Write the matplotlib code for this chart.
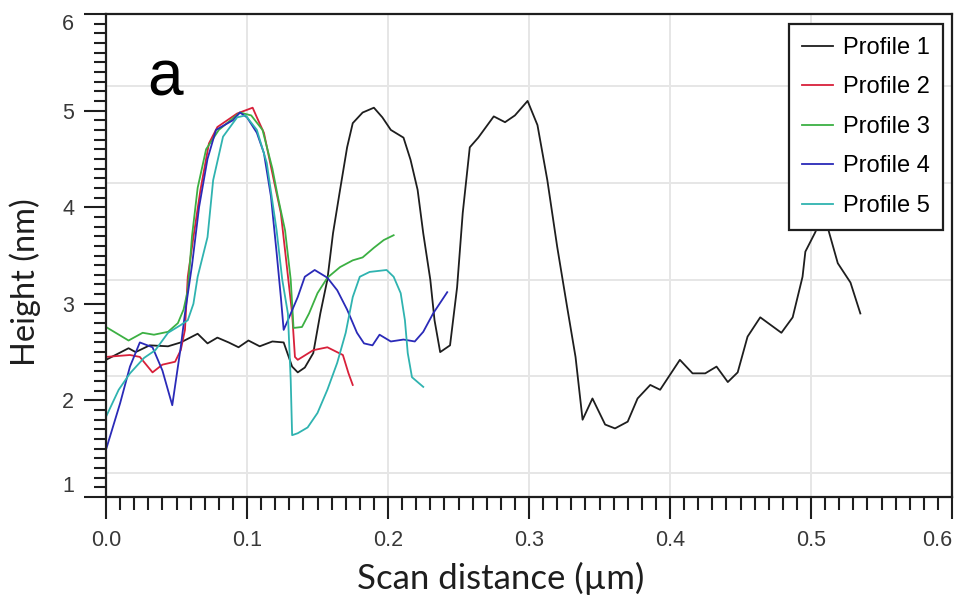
import matplotlib
matplotlib.use("Agg")
import matplotlib.pyplot as plt
from matplotlib.ticker import MultipleLocator, FixedLocator

# ---- data ----
p1_x = [0.000, 0.016, 0.021, 0.031, 0.044, 0.053, 0.065, 0.072, 0.079, 0.087, 0.094, 0.101,
        0.109, 0.118, 0.126, 0.132, 0.136, 0.141, 0.147, 0.152, 0.157, 0.161, 0.166, 0.171,
        0.175, 0.182, 0.190, 0.196, 0.202, 0.211, 0.216, 0.221, 0.225, 0.230, 0.233, 0.237,
        0.244, 0.249, 0.253, 0.258, 0.264, 0.275, 0.283, 0.290, 0.299, 0.306, 0.313, 0.320,
        0.327, 0.333, 0.338, 0.345, 0.354, 0.361, 0.370, 0.377, 0.386, 0.393, 0.407, 0.416,
        0.425, 0.433, 0.441, 0.448, 0.455, 0.464, 0.479, 0.487, 0.494, 0.496, 0.503, 0.509,
        0.513, 0.519, 0.528, 0.535]
p1_y = [2.42, 2.54, 2.50, 2.57, 2.56, 2.60, 2.69, 2.59, 2.65, 2.60, 2.55, 2.62,
        2.56, 2.61, 2.60, 2.35, 2.29, 2.34, 2.49, 2.90, 3.25, 3.73, 4.18, 4.62,
        4.87, 4.98, 5.03, 4.93, 4.80, 4.72, 4.49, 4.18, 3.73, 3.25, 2.83, 2.50,
        2.57, 3.17, 3.94, 4.62, 4.72, 4.94, 4.88, 4.95, 5.10, 4.85, 4.28, 3.59,
        2.97, 2.45, 1.80, 2.02, 1.75, 1.71, 1.78, 2.02, 2.16, 2.11, 2.42, 2.28,
        2.28, 2.35, 2.19, 2.29, 2.66, 2.86, 2.70, 2.86, 3.28, 3.54, 3.74, 3.95,
        3.73, 3.42, 3.22, 2.90]

p2_x = [0.000, 0.017, 0.024, 0.033, 0.040, 0.049, 0.053, 0.056, 0.058, 0.062, 0.067, 0.073,
        0.079, 0.093, 0.104, 0.107, 0.112, 0.119, 0.124, 0.128, 0.132, 0.134, 0.136, 0.147,
        0.157, 0.168, 0.172, 0.175]
p2_y = [2.45, 2.47, 2.45, 2.29, 2.37, 2.40, 2.52, 2.73, 3.28, 3.69, 4.18, 4.66,
        4.83, 4.97, 5.03, 4.93, 4.77, 4.28, 3.94, 3.42, 2.90, 2.45, 2.42, 2.52,
        2.55, 2.47, 2.28, 2.16]

p3_x = [0.000, 0.016, 0.026, 0.034, 0.044, 0.051, 0.055, 0.058, 0.061, 0.065, 0.071, 0.080,
        0.095, 0.103, 0.111, 0.118, 0.122, 0.127, 0.131, 0.133, 0.139, 0.144, 0.150, 0.157,
        0.166, 0.175, 0.182, 0.190, 0.197, 0.204]
p3_y = [2.76, 2.62, 2.70, 2.68, 2.71, 2.80, 2.94, 3.14, 3.70, 4.20, 4.60, 4.80,
        4.98, 4.95, 4.80, 4.40, 4.10, 3.76, 3.25, 2.75, 2.76, 2.90, 3.11, 3.27,
        3.38, 3.45, 3.48, 3.58, 3.66, 3.71]

p4_x = [0.000, 0.010, 0.017, 0.024, 0.033, 0.040, 0.047, 0.053, 0.056, 0.061, 0.066, 0.072,
        0.078, 0.090, 0.095, 0.100, 0.107, 0.112, 0.117, 0.121, 0.124, 0.126, 0.129, 0.136,
        0.141, 0.148, 0.157, 0.164, 0.171, 0.178, 0.183, 0.189, 0.194, 0.202, 0.211, 0.219,
        0.225, 0.232, 0.242]
p4_y = [1.49, 1.97, 2.35, 2.60, 2.55, 2.31, 1.95, 2.55, 2.90, 3.40, 4.00, 4.50,
        4.80, 4.90, 4.98, 4.93, 4.77, 4.56, 4.11, 3.53, 3.07, 2.73, 2.83, 3.07,
        3.28, 3.35, 3.27, 3.14, 2.94, 2.70, 2.59, 2.57, 2.68, 2.61, 2.63, 2.61,
        2.71, 2.90, 3.12]

p5_x = [0.000, 0.009, 0.017, 0.027, 0.035, 0.044, 0.053, 0.058, 0.062, 0.065, 0.072, 0.076,
        0.083, 0.093, 0.099, 0.107, 0.114, 0.121, 0.125, 0.129, 0.131, 0.132, 0.136, 0.143,
        0.150, 0.157, 0.164, 0.170, 0.175, 0.180, 0.187, 0.199, 0.204, 0.209, 0.212, 0.214,
        0.217, 0.225]
p5_y = [1.83, 2.11, 2.28, 2.44, 2.52, 2.70, 2.78, 2.83, 3.00, 3.28, 3.69, 4.28,
        4.73, 4.93, 4.95, 4.80, 4.46, 3.76, 3.25, 2.90, 2.21, 1.64, 1.66, 1.72,
        1.87, 2.11, 2.39, 2.70, 3.07, 3.28, 3.33, 3.35, 3.28, 3.11, 2.83, 2.49,
        2.24, 2.14]

series_labels = ["Profile 1", "Profile 2", "Profile 3", "Profile 4", "Profile 5"]
series_colors = ["#1e1e1e", "#d8203a", "#3cb043", "#2a2ab8", "#2fb3b0"]
x_ticks = [0.0, 0.1, 0.2, 0.3, 0.4, 0.5, 0.6]
y_ticks = [1, 2, 3, 4, 5, 6]
grid_y = [1.25, 2.25, 3.25, 4.25, 5.25]

W, H = 958, 605
fig = plt.figure(figsize=(W / 100, H / 100), dpi=100)
ax = fig.add_axes([106 / W, 1 - 497 / H, 846 / W, 483 / H])

for gy in grid_y:
    ax.axhline(gy, color="#e6e6e6", lw=1.4, zorder=0)
for gx in x_ticks[1:-1]:
    ax.axvline(gx, color="#e6e6e6", lw=1.4, zorder=0)

xs = [p1_x, p2_x, p3_x, p4_x, p5_x]
ys = [p1_y, p2_y, p3_y, p4_y, p5_y]
for x, y, lab, c in zip(xs, ys, series_labels, series_colors):
    ax.plot(x, y, color=c, lw=1.3, label=lab, zorder=2)

ax.set_xlim(0, 0.6)
ax.set_ylim(1, 6)
ax.xaxis.set_major_locator(FixedLocator(x_ticks))
ax.yaxis.set_major_locator(FixedLocator(y_ticks))
ax.xaxis.set_minor_locator(MultipleLocator(0.01))
ax.yaxis.set_minor_locator(MultipleLocator(0.1))
ax.set_xticklabels([f"{v:.1f}" for v in x_ticks])
ax.set_yticklabels([str(v) for v in y_ticks])

ax.tick_params(axis="both", which="major", direction="out", length=16, width=1.5,
               color="#1e1e1e")
ax.tick_params(axis="both", which="minor", direction="out", length=9, width=1.5,
               color="#1e1e1e")
ax.tick_params(axis="y", which="major", pad=7)
ax.tick_params(axis="x", which="major", pad=8)

for lbl in ax.get_xticklabels() + ax.get_yticklabels():
    lbl.set_fontfamily("Liberation Sans")
    lbl.set_fontsize(15.5)
    lbl.set_color("#383838")
ax.get_yticklabels()[0].set_va("bottom")
ax.get_yticklabels()[-1].set_va("top")
ax.get_xticklabels()[-1].set_ha("right")

for s in ax.spines.values():
    s.set_linewidth(1.6)
    s.set_color("#1e1e1e")

ax.set_xlabel("Scan distance (\u00b5m)", fontfamily="Lato", fontsize=25, color="#1e1e1e",
              va="center", ha="center")
ax.set_ylabel("Height (nm)", fontfamily="Lato", fontsize=23.5, color="#1e1e1e",
              va="center", ha="center")
ax.xaxis.set_label_coords((501 - 106) / 846, (497 - 578) / 483)
ax.yaxis.set_label_coords((25 - 106) / 846, (497 - 282) / 483)

leg = ax.legend(loc="upper right", bbox_to_anchor=(943 / W, 1 - 24 / H),
                bbox_transform=fig.transFigure, borderaxespad=0,
                prop=dict(family="Liberation Sans", size=17),
                frameon=True, fancybox=False, framealpha=1, edgecolor="#1e1e1e",
                handlelength=1.3, handletextpad=0.45, borderpad=0.55, labelspacing=0.74)
leg.get_frame().set_linewidth(1.6)
leg.set_zorder(5)
for h in leg.get_lines():
    h.set_linewidth(1.3)

fig.text(147 / W, 1 - 95 / H, "a", fontfamily="Liberation Sans", fontsize=46,
         va="baseline", ha="left", color="black")

fig.savefig("out.png", dpi=100)
